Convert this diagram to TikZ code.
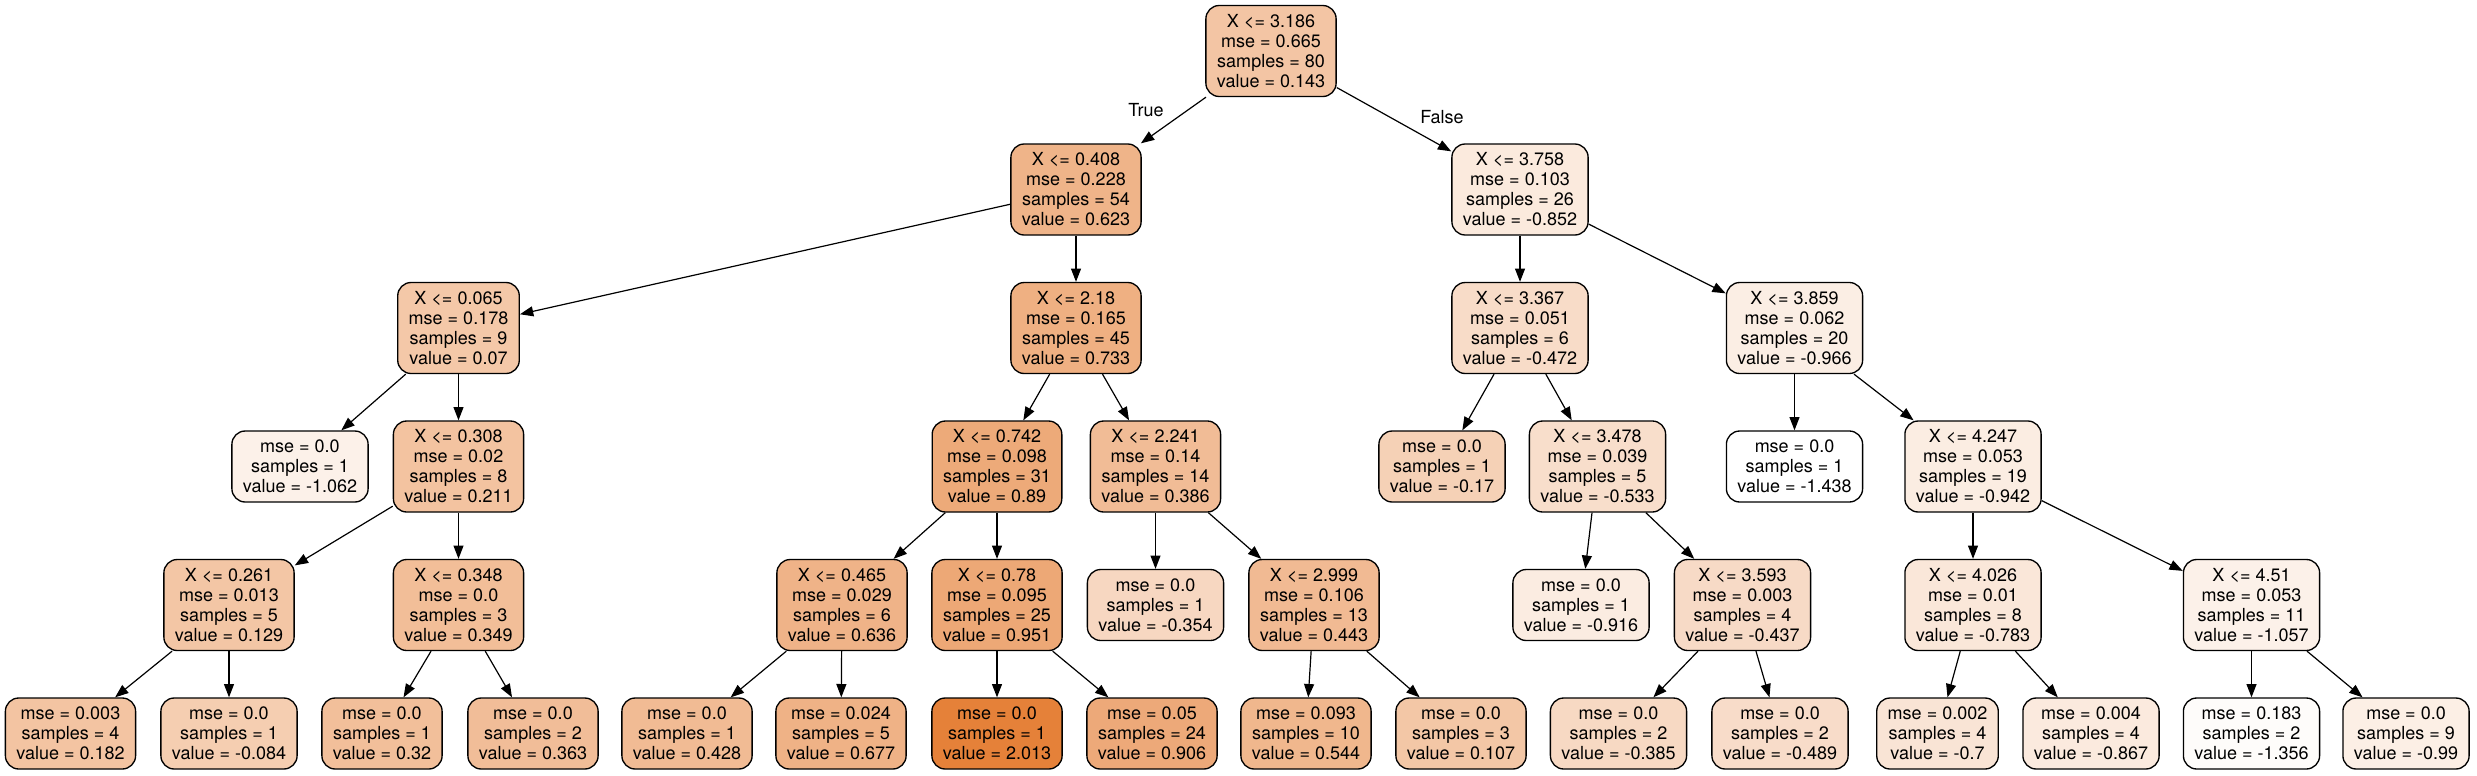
\documentclass[tikz,border=0pt]{standalone}
\usepackage{fontspec}
\setmainfont{TeX Gyre Heros}
\usetikzlibrary{arrows.meta}
\definecolor{org}{RGB}{229,129,57}
\tikzset{
  tn/.style={draw=black, line width=1pt, rounded corners=10pt, align=center,
    font=\fontsize{13.5pt}{15pt}\selectfont, inner xsep=8.25pt, inner ysep=0pt,
    minimum height=68.25pt},
  lf/.style={tn, minimum height=53.25pt},
  c/.style={fill=org!#1!white},
  edge/.style={line width=0.9pt, -{Triangle[length=10pt,width=7.5pt]}},
  elab/.style={font=\fontsize{13.5pt}{15pt}\selectfont, inner sep=0pt}
}
\begin{document}
\begin{tikzpicture}[x=0.75pt,y=-0.75pt]
\useasboundingbox (0,0) rectangle (2477,775);
% level 0
\node[tn,c=45.8] (r) at (1271,51) {X <= 3.186\\mse = 0.665\\samples = 80\\value = 0.143};
% level 1
\node[tn,c=59.7] (a) at (1076,189.5) {X <= 0.408\\mse = 0.228\\samples = 54\\value = 0.623};
\node[tn,c=17.0] (b) at (1520,189.5) {X <= 3.758\\mse = 0.103\\samples = 26\\value = -0.852};
% level 2
\node[tn,c=43.7] (aa) at (458.5,328) {X <= 0.065\\mse = 0.178\\samples = 9\\value = 0.07};
\node[tn,c=62.9] (ab) at (1076,328) {X <= 2.18\\mse = 0.165\\samples = 45\\value = 0.733};
\node[tn,c=28.0] (ba) at (1520,328) {X <= 3.367\\mse = 0.051\\samples = 6\\value = -0.472};
\node[tn,c=13.7] (bb) at (1794.5,328) {X <= 3.859\\mse = 0.062\\samples = 20\\value = -0.966};
% level 3
\node[lf,c=10.9] (aaa) at (300,466.5) {mse = 0.0\\samples = 1\\value = -1.062};
\node[tn,c=47.8] (aab) at (458.5,466.5) {X <= 0.308\\mse = 0.02\\samples = 8\\value = 0.211};
\node[tn,c=67.5] (aba) at (997,466.5) {X <= 0.742\\mse = 0.098\\samples = 31\\value = 0.89};
\node[tn,c=52.9] (abb) at (1155.5,466.5) {X <= 2.241\\mse = 0.14\\samples = 14\\value = 0.386};
\node[lf,c=36.7] (baa) at (1442,466.5) {mse = 0.0\\samples = 1\\value = -0.17};
\node[tn,c=26.2] (bab) at (1597.5,466.5) {X <= 3.478\\mse = 0.039\\samples = 5\\value = -0.533};
\node[lf,c=0] (bba) at (1794.5,466.5) {mse = 0.0\\samples = 1\\value = -1.438};
\node[tn,c=14.4] (bbb) at (1973,466.5) {X <= 4.247\\mse = 0.053\\samples = 19\\value = -0.942};
% level 4
\node[tn,c=45.4] (aaba) at (229,605) {X <= 0.261\\mse = 0.013\\samples = 5\\value = 0.129};
\node[tn,c=51.8] (aabb) at (458.5,605) {X <= 0.348\\mse = 0.0\\samples = 3\\value = 0.349};
\node[tn,c=60.1] (abaa) at (842,605) {X <= 0.465\\mse = 0.029\\samples = 6\\value = 0.636};
\node[tn,c=69.2] (abab) at (997,605) {X <= 0.78\\mse = 0.095\\samples = 25\\value = 0.951};
\node[lf,c=31.4] (abba) at (1155.5,605) {mse = 0.0\\samples = 1\\value = -0.354};
\node[tn,c=54.5] (abbb) at (1314,605) {X <= 2.999\\mse = 0.106\\samples = 13\\value = 0.443};
\node[lf,c=15.1] (baba) at (1581,605) {mse = 0.0\\samples = 1\\value = -0.916};
\node[tn,c=29.0] (babb) at (1742.5,605) {X <= 3.593\\mse = 0.003\\samples = 4\\value = -0.437};
\node[tn,c=19.0] (bbba) at (1973,605) {X <= 4.026\\mse = 0.01\\samples = 8\\value = -0.783};
\node[tn,c=11.0] (bbbb) at (2251.5,605) {X <= 4.51\\mse = 0.053\\samples = 11\\value = -1.057};
% level 5
\node[lf,c=46.9] (l1) at (70.5,733.5) {mse = 0.003\\samples = 4\\value = 0.182};
\node[lf,c=39.2] (l2) at (229,733.5) {mse = 0.0\\samples = 1\\value = -0.084};
\node[lf,c=50.9] (l3) at (382,733.5) {mse = 0.0\\samples = 1\\value = 0.32};
\node[lf,c=52.2] (l4) at (533,733.5) {mse = 0.0\\samples = 2\\value = 0.363};
\node[lf,c=54.1] (l5) at (687,733.5) {mse = 0.0\\samples = 1\\value = 0.428};
\node[lf,c=61.3] (l6) at (841,733.5) {mse = 0.024\\samples = 5\\value = 0.677};
\node[lf,c=100] (l7) at (997,733.5) {mse = 0.0\\samples = 1\\value = 2.013};
\node[lf,c=67.9] (l8) at (1152,733.5) {mse = 0.05\\samples = 24\\value = 0.906};
\node[lf,c=57.4] (l9) at (1306,733.5) {mse = 0.093\\samples = 10\\value = 0.544};
\node[lf,c=44.8] (l10) at (1461,733.5) {mse = 0.0\\samples = 3\\value = 0.107};
\node[lf,c=30.5] (l11) at (1618.5,733.5) {mse = 0.0\\samples = 2\\value = -0.385};
\node[lf,c=27.5] (l12) at (1780,733.5) {mse = 0.0\\samples = 2\\value = -0.489};
\node[lf,c=21.4] (l13) at (1937.5,733.5) {mse = 0.002\\samples = 4\\value = -0.7};
\node[lf,c=16.5] (l14) at (2091,733.5) {mse = 0.004\\samples = 4\\value = -0.867};
\node[lf,c=2.4] (l15) at (2251.5,733.5) {mse = 0.183\\samples = 2\\value = -1.356};
\node[lf,c=13.0] (l16) at (2406,733.5) {mse = 0.0\\samples = 9\\value = -0.99};
% edges
\draw[edge] (r) -- (a);
\draw[edge] (r) -- (b);
\draw[edge] (a) -- (aa);
\draw[edge] (a) -- (ab);
\draw[edge] (b) -- (ba);
\draw[edge] (b) -- (bb);
\draw[edge] (aa) -- (aaa);
\draw[edge] (aa) -- (aab);
\draw[edge] (ab) -- (aba);
\draw[edge] (ab) -- (abb);
\draw[edge] (ba) -- (baa);
\draw[edge] (ba) -- (bab);
\draw[edge] (bb) -- (bba);
\draw[edge] (bb) -- (bbb);
\draw[edge] (aab) -- (aaba);
\draw[edge] (aab) -- (aabb);
\draw[edge] (aba) -- (abaa);
\draw[edge] (aba) -- (abab);
\draw[edge] (abb) -- (abba);
\draw[edge] (abb) -- (abbb);
\draw[edge] (bab) -- (baba);
\draw[edge] (bab) -- (babb);
\draw[edge] (bbb) -- (bbba);
\draw[edge] (bbb) -- (bbbb);
\draw[edge] (aaba) -- (l1);
\draw[edge] (aaba) -- (l2);
\draw[edge] (aabb) -- (l3);
\draw[edge] (aabb) -- (l4);
\draw[edge] (abaa) -- (l5);
\draw[edge] (abaa) -- (l6);
\draw[edge] (abab) -- (l7);
\draw[edge] (abab) -- (l8);
\draw[edge] (abbb) -- (l9);
\draw[edge] (abbb) -- (l10);
\draw[edge] (babb) -- (l11);
\draw[edge] (babb) -- (l12);
\draw[edge] (bbba) -- (l13);
\draw[edge] (bbba) -- (l14);
\draw[edge] (bbbb) -- (l15);
\draw[edge] (bbbb) -- (l16);
% edge labels
\node[elab] (tl) at (1146,110.5) {True};
\node[elab] (fl) at (1442,117) {False};
\end{tikzpicture}
\end{document}
